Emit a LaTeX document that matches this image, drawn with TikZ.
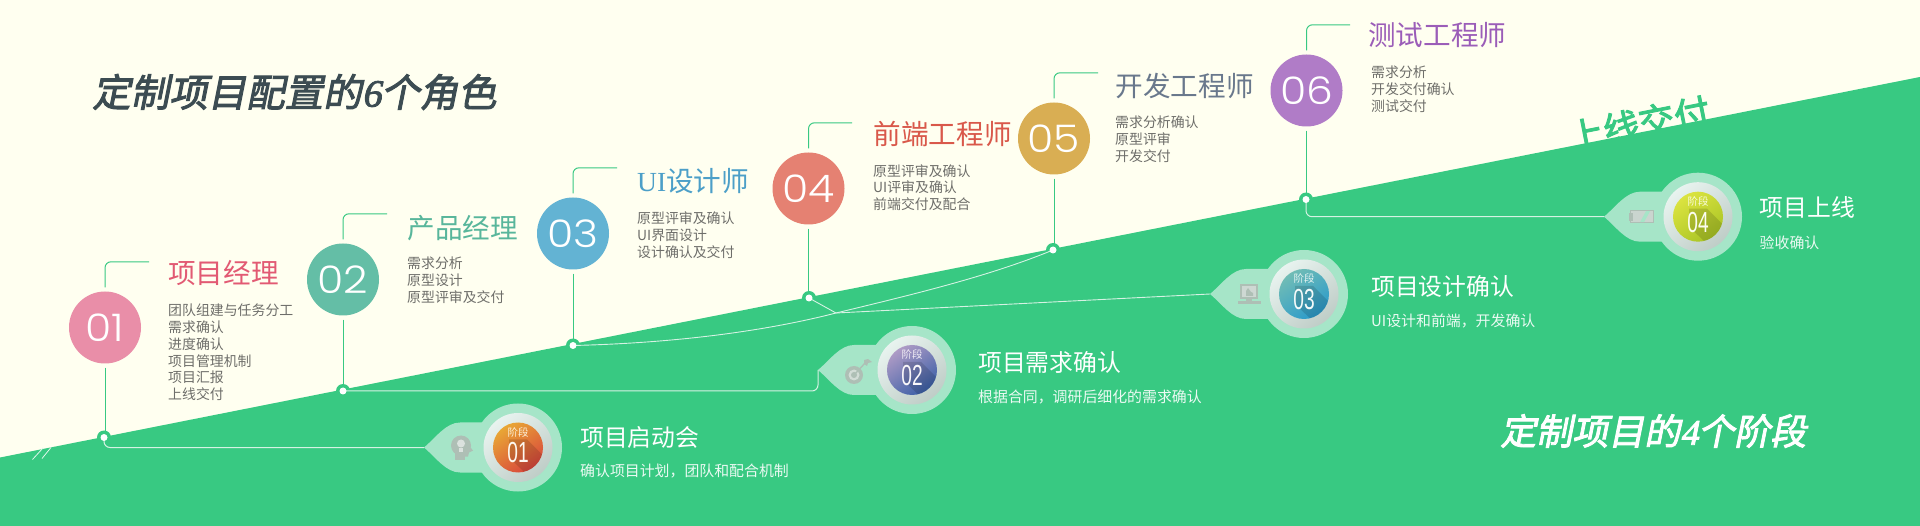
\documentclass[tikz,border=0pt]{standalone}
\usepackage{fontspec}
\usetikzlibrary{calc}
\newfontfamily\cjk{Noto Sans CJK SC}
\newfontfamily\headfont[FakeSlant=0.2,FakeBold=2.4]{Noto Sans CJK SC}
\newfontfamily\boldcjk[FakeBold=2.6]{Noto Sans CJK SC}
\newfontfamily\serifdig[FakeSlant=0.2,FakeBold=2.4]{Liberation Serif}
\newfontfamily\seriflat{Liberation Serif}
\newfontfamily\numfont{Poppins Light}
\newfontfamily\narrowfont{Liberation Sans}
\newcommand{\wnum}[1]{\scalebox{1.12}[1]{#1}}
\definecolor{cream}{HTML}{FFFFF0}
\definecolor{grass}{HTML}{38C982}
\definecolor{pale}{HTML}{A6E5C8}
\definecolor{wire}{HTML}{D5F2E3}
\definecolor{icongray}{HTML}{AEBFB5}
\definecolor{inktext}{HTML}{6E6E6A}
\definecolor{slate}{HTML}{3C4C52}
\definecolor{pearltop}{HTML}{E8F3EF}
\definecolor{pearlbot}{HTML}{BFCDC7}
\definecolor{a1}{HTML}{E9A935}\definecolor{b1}{HTML}{D8453C}
\definecolor{a2}{HTML}{B09CC6}\definecolor{b2}{HTML}{3A5FA6}
\definecolor{a3}{HTML}{72BDB5}\definecolor{b3}{HTML}{2A9ACB}
\definecolor{a4}{HTML}{DCE440}\definecolor{b4}{HTML}{A9C425}
\tikzset{
  roleball/.style={circle,minimum size=72pt,inner sep=0,text=white,font=\numfont\fontsize{38}{38}\selectfont},
  rolename/.style={anchor=west,inner sep=0,font=\cjk\fontsize{27.6}{30}\selectfont},
  rolelist/.style={anchor=west,inner sep=0,align=left,text=inktext,font=\cjk\fontsize{13.9}{16.8}\selectfont},
  stagename/.style={anchor=west,inner sep=0,text=white,font=\cjk\fontsize{23.8}{26}\selectfont},
  stagesub/.style={anchor=west,inner sep=0,text=white!90!grass,font=\cjk\fontsize{14.9}{17}\selectfont},
  riser/.style={draw=grass,line width=1pt,rounded corners=6pt},
  wireline/.style={draw=wire,line width=1pt,rounded corners=6pt},
  dotring/.style={circle,fill=grass,minimum size=14pt,inner sep=0},
  dotcore/.style={circle,fill=white,minimum size=7pt,inner sep=0},
  bigtitle/.style={inner sep=0,font=\headfont\fontsize{38.5}{40}\selectfont},
}
% name, x, y, number, top colour, bottom colour
\newcommand{\stagebadge}[6]{%
  \coordinate (#1tip) at (#2-94,#3);
  \begin{scope}[shift={(#2,#3)}]
    \fill[pale] (-94,0) .. controls (-82,-10) and (-72,-25) .. (-58,-25) -- (-30,-25) -- (-30,25) -- (-58,25) .. controls (-72,25) and (-82,10) .. (-94,0) -- cycle;
    \fill[pale] (0,0) circle (44);
    \shade[top color=pearltop,bottom color=pearlbot,shading angle=40] (0,0) circle (34.5);
    \begin{scope}
      \clip (0,0) circle (25);
      \shade[top color=#5,bottom color=#6,shading angle=35] (-26,-26) rectangle (26,26);
      \fill[black,opacity=.13] (-9,-8) -- (9,-8) -- (30,13) -- (30,30) -- (12,30) -- (-9,10) -- cycle;
    \end{scope}
    \node[inner sep=0,text=white!80!#5,font=\cjk\fontsize{10.5}{12}\selectfont] (#1cap) at (0,-15) {阶段};
    \node[inner sep=0,xscale=.66,text=white!92!#5,font=\narrowfont\fontsize{29}{30}\selectfont] (#1num) at (0,5.5) {#4};
  \end{scope}}
\begin{document}
\begin{tikzpicture}[x=1pt,y=-1pt]
\useasboundingbox (0,0) rectangle (1920,526);
\fill[cream] (0,0) rectangle (1920,526);
\fill[grass] (0,457.5) -- (1920,77) -- (1920,526) -- (0,526) -- cycle;
% small strokes at the lower left
\draw[white!85!grass,line width=.8pt] (32.5,459.5) -- (43,448);
\draw[white!85!grass,line width=.8pt] (42,458.5) -- (51,447.5);
% rising text behind diagonal
\node[inner sep=0,rotate=11.2,text=grass,font=\boldcjk\fontsize{36}{38}\selectfont] (golive) at (1639,124) {上线交付};
% titles
\node[bigtitle,text=slate,anchor=west] (maintitle) at (92,92) {定制项目配置的{\serifdig 6}个角色};
\node[bigtitle,text=white,anchor=west,font=\headfont\fontsize{36}{38}\selectfont] (stagetitle) at (1500,431) {定制项目的{\serifdig 4}个阶段};
% anchors on the diagonal
\node[dotring] (d1) at (104,437.5) {};
\node[dotring] (d2) at (343,391) {};
\node[dotring] (d3) at (573,345.5) {};
\node[dotring] (d4) at (809,298) {};
\node[dotring] (d5) at (1053,250) {};
\node[dotring] (d6) at (1306,199.5) {};
% role circles
\node[roleball,fill={rgb,255:red,233;green,142;blue,168}] (r1) at (105,327.5) {\wnum{01}};
\node[roleball,fill={rgb,255:red,100;green,190;blue,166}] (r2) at (343,279.5) {\wnum{02}};
\node[roleball,fill={rgb,255:red,99;green,179;blue,211}] (r3) at (573,233.5) {\wnum{03}};
\node[roleball,fill={rgb,255:red,229;green,129;blue,114}] (r4) at (808.5,188.5) {\wnum{04}};
\node[roleball,fill={rgb,255:red,217;green,174;blue,83}] (r5) at (1054,138.5) {\wnum{05}};
\node[roleball,fill={rgb,255:red,176;green,124;blue,199}] (r6) at (1306.5,90.5) {\wnum{06}};
% role names
\node[rolename,text={rgb,255:red,226;green,90;blue,115}] (n1) at (168,273.5) {项目经理};
\node[rolename,text={rgb,255:red,88;green,182;blue,155}] (n2) at (407.5,228.5) {产品经理};
\node[rolename,text={rgb,255:red,76;green,159;blue,200}] (n3) at (637,181.5) {{\seriflat UI}设计师};
\node[rolename,text={rgb,255:red,217;green,88;blue,74}] (n4) at (873.5,133.5) {前端工程师};
\node[rolename,text={rgb,255:red,105;green,120;blue,140}] (n5) at (1115.5,86.5) {开发工程师};
\node[rolename,text={rgb,255:red,155;green,93;blue,184}] (n6) at (1368,35.5) {测试工程师};
% lists
\node[rolelist] (l1) at (168,352.5) {团队组建与任务分工\\需求确认\\进度确认\\项目管理机制\\项目汇报\\上线交付};
\node[rolelist] (l2) at (407,280.5) {需求分析\\原型设计\\原型评审及交付};
\node[rolelist] (l3) at (637,235) {原型评审及确认\\UI界面设计\\设计确认及交付};
\node[rolelist] (l4) at (873,187.5) {原型评审及确认\\UI评审及确认\\前端交付及配合};
\node[rolelist] (l5) at (1115,139.5) {需求分析确认\\原型评审\\开发交付};
\node[rolelist] (l6) at (1371,89.5) {需求分析\\开发交付确认\\测试交付};
% risers: circle to diagonal, and the bracket above each circle
\foreach \i/\bx in {1/149,2/387,3/617,4/852,5/1098,6/1350}{
  \draw[riser] ($(r\i.south)+(0,4)$) -- (r\i.south |- d\i.center);
  \coordinate (b\i) at (\bx,0);
  \coordinate (k\i) at ($(r\i.north)+(0,-29.5)$);
  \draw[riser] ($(r\i.north)+(0,-4)$) |- (b\i |- k\i);
}
% badges
\stagebadge{s1}{518}{447.5}{01}{a1}{b1}
\stagebadge{s2}{912}{370}{02}{a2}{b2}
\stagebadge{s3}{1304}{294}{03}{a3}{b3}
\stagebadge{s4}{1698}{216.7}{04}{a4}{b4}
% icons
\begin{scope}[shift={(518,447.5)}]
  \fill[icongray] (-57,-2) circle (10);
  \fill[icongray] (-63,3) rectangle (-53,12);
  \fill[icongray] (-50,-3) -- (-45,3) -- (-49,5) -- (-50,9) -- (-55,9) -- cycle;
  \fill[white!55!icongray] (-57,-4) circle (4);
  \fill[white!55!icongray] (-59,0) rectangle (-55,4);
\end{scope}
\begin{scope}[shift={(912,370)}]
  \fill[icongray] (-58,5) circle (9);
  \fill[white!45!icongray] (-58,5) circle (5.5);
  \fill[icongray] (-58,5) circle (3);
  \draw[icongray,line width=1.4pt] (-58,5) -- (-46,-8);
  \fill[icongray] (-48,-10) -- (-44,-11) -- (-40,-8) -- (-44,-7) -- (-45,-4) -- (-48,-6) -- cycle;
\end{scope}
\begin{scope}[shift={(1304,294)}]
  \fill[icongray] (-64,-10) rectangle (-46,5);
  \fill[white!40!icongray] (-62,-8) rectangle (-48,3);
  \fill[icongray] (-58,2) -- (-58,-3) -- (-56,-6) -- (-53,-2) -- (-51,-1) -- (-51,2) -- cycle;
  \fill[icongray] (-58,5) rectangle (-52,7);
  \fill[icongray] (-66,7) rectangle (-43,10);
\end{scope}
\begin{scope}[shift={(1698,216.7)}]
  \fill[white!35!icongray] (-68,-6) rectangle (-45,6);
  \draw[icongray,line width=1pt] (-68,-6) rectangle (-45,6);
  \fill[icongray] (-69,-4) rectangle (-65,4);
  \fill[pale] (-52,-5.5) -- (-48,-5.5) -- (-54,5.5) -- (-58,5.5) -- cycle;
\end{scope}
% stage text
\node[stagename] (t1) at (580,437.5) {项目启动会};
\node[stagesub] (u1) at (580,471.5) {确认项目计划，团队和配合机制};
\node[stagename] (t2) at (978,362.5) {项目需求确认};
\node[stagesub] (u2) at (978,397.5) {根据合同，调研后细化的需求确认};
\node[stagename] (t3) at (1371,286.5) {项目设计确认};
\node[stagesub] (u3) at (1371,321.5) {UI设计和前端，开发确认};
\node[stagename] (t4) at (1759.5,207.5) {项目上线};
\node[stagesub] (u4) at (1759.5,242.5) {验收确认};
% connectors
\coordinate (junction) at (836,313);
\draw[wireline] (d1.center) |- (s1tip);
\draw[wireline] (d2.center) -| (s2tip);
\draw[wireline] (d6.center) |- (s4tip);
\draw[draw=wire,line width=.9pt] (d3.center) .. controls (680,343) and (770,330) .. (junction) .. controls (915,294) and (990,276) .. (d5.center);
\draw[draw=wire,line width=.9pt] (d4.center) -- (junction);
\draw[draw=wire,line width=.9pt] (junction) -- (s3tip);
% dot cores on top
\foreach \i in {1,...,6}{\node[dotcore] (c\i) at (d\i) {};}
\end{tikzpicture}
\end{document}
